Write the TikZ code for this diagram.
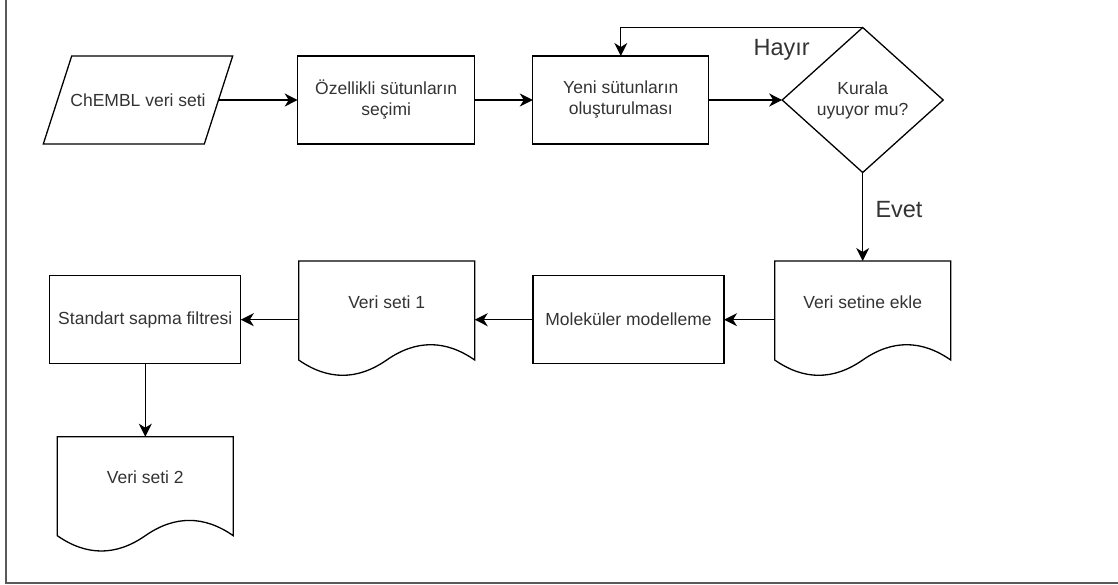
\documentclass[tikz,border=0pt]{standalone}
\usepackage{fontspec}
\setmainfont{Liberation Sans}
\usetikzlibrary{arrows.meta,shapes.geometric}

% document outline with a wavy bottom, drawn round a node
\newcommand{\docwave}[1]{%
  \draw ([yshift=-17pt]#1.south west) -- (#1.north west) -- (#1.north east)
    -- ([yshift=-17pt]#1.south east)
    .. controls ([xshift=-29.3pt,yshift=3.4pt]#1.south east) and ([xshift=-58.7pt,yshift=3.4pt]#1.south east) .. ([yshift=-17pt]#1.south)
    .. controls ([xshift=-29.3pt,yshift=-37.4pt]#1.south) and ([xshift=29.3pt,yshift=-37.4pt]#1.south west) .. ([yshift=-17pt]#1.south west)
    -- cycle;}

\begin{document}
\begin{tikzpicture}[x=1pt, y=-1pt, line width=1.3pt,
    >={Stealth[length=13pt,width=13pt,inset=4pt]},
    kutu/.style={draw, rectangle, minimum height=88pt, align=center, inner sep=0pt, outer sep=0pt,
        text=black!80, font=\fontsize{17.5}{21}\selectfont},
    belge/.style={rectangle, minimum width=176pt, minimum height=82pt, align=center, inner sep=0pt,
        outer sep=0pt, text=black!80, font=\fontsize{17.5}{21}\selectfont},
    etiket/.style={text=black!80, font=\fontsize{23.5}{28}\selectfont}]
    \useasboundingbox (0,0) rectangle (1118,584);

    % Frame
    \draw[line width=2.2pt, black!65] (6,0) -- (6,582.7) -- (1118,582.7);

    % Top row
    \node[kutu, draw=none, minimum width=161pt] (chembl) at (138,100) {ChEMBL veri seti};
    \draw ([xshift=14.2pt]chembl.north west) -- ([xshift=14.2pt]chembl.north east)
        -- ([xshift=-14.2pt]chembl.south east) -- ([xshift=-14.2pt]chembl.south west) -- cycle;
    \node[kutu, minimum width=177pt] (secim) at (386.2,100) {Özellikli sütunların\\seçimi};
    \node[kutu, minimum width=176pt] (yeni) at (620.8,100) {Yeni sütunların\\oluşturulması};
    \node[kutu, diamond, minimum width=161pt, minimum height=145pt] (kural) at (862.7,100) {Kurala\\uyuyor mu?};

    % Bottom row
    \node[belge] (ekle) at (862.7,302) {Veri setine ekle};
    \docwave{ekle}
    \node[kutu, minimum width=191pt] (molek) at (628.5,319.7) {Moleküler modelleme};
    \node[belge] (veri1) at (386.7,302) {Veri seti 1};
    \docwave{veri1}
    \node[kutu, minimum width=191pt] (standart) at (145.3,319.7) {Standart sapma filtresi};
    \node[belge] (veri2) at (145.3,477.7) {Veri seti 2};
    \docwave{veri2}

    % Labels
    \node[etiket] (hayir) at (781.7,50) {Hayır};
    \node[etiket] (evet) at (899,210) {Evet};

    % Arrows
    \draw[->] (chembl.east) -- (secim.west);
    \draw[->] (secim.east) -- (yeni.west);
    \draw[->] (yeni.east) -- (kural.west);
    \draw[->] (kural.north) -| (yeni.north);
    \draw[->] (kural.south) -- (ekle.north);
    \draw[->] (molek.east -| ekle.west) -- (molek.east);
    \draw[->] (molek.west) -- (molek.west -| veri1.east);
    \draw[->] (standart.east -| veri1.west) -- (standart.east);
    \draw[->] (standart.south) -- (veri2.north);
\end{tikzpicture}
\end{document}
